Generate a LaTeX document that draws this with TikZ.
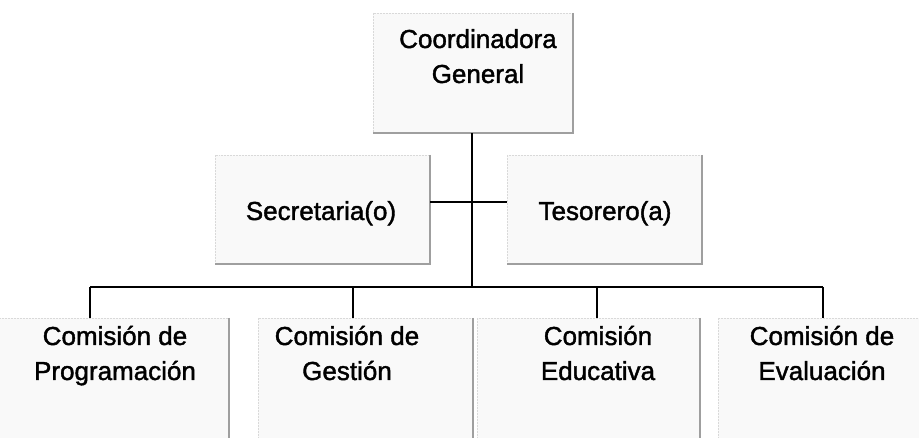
\documentclass[tikz,border=0pt]{standalone}
\usepackage{fontspec}
\setmainfont{Liberation Sans}
\newfontfamily\lblfont{Liberation Sans}[BoldFont={Liberation Sans},BoldFeatures={FakeBold=1.5}]
\begin{document}
\begin{tikzpicture}[x=1pt,y=-1pt,
  box/.style={fill=gray!5,draw=gray!30,line width=0.5pt,densely dotted},
  edge/.style={draw=gray!75,line width=1.2pt},
  lbl/.style={font=\lblfont\bfseries\fontsize{26}{35}\selectfont,align=center,inner sep=0pt},
  conn/.style={draw=black,line width=1.6pt}]
\useasboundingbox (0,0) rectangle (919,438);
\clip (0,0) rectangle (919,438);
% boxes
\path[box] (373,13) rectangle (573,133);
\node[inner sep=0pt,minimum width=200pt,minimum height=120pt] (cg) at (473,73) {};
\draw[edge] (573,13) -- (573,133) -- (373,133);
\path[box] (215,155) rectangle (430,264);
\node[inner sep=0pt,minimum width=215pt,minimum height=109pt] (sec) at (322.5,209.5) {};
\draw[edge] (430,155) -- (430,264) -- (215,264);
\path[box] (507,155) rectangle (702,264);
\node[inner sep=0pt,minimum width=195pt,minimum height=109pt] (tes) at (604.5,209.5) {};
\draw[edge] (702,155) -- (702,264) -- (507,264);
\path[box] (-5,318) rectangle (229,450);
\node[inner sep=0pt,minimum width=234pt,minimum height=132pt] (c1) at (90,384) {};
\draw[edge] (229,318) -- (229,450);
\path[box] (258,318) rectangle (473,450);
\node[inner sep=0pt,minimum width=215pt,minimum height=132pt] (c2) at (353,384) {};
\draw[edge] (473,318) -- (473,450);
\path[box] (477,318) rectangle (700,450);
\node[inner sep=0pt,minimum width=223pt,minimum height=132pt] (c3) at (597,384) {};
\draw[edge] (700,318) -- (700,450);
\path[box] (718,318) rectangle (940,450);
\node[inner sep=0pt,minimum width=222pt,minimum height=132pt] (c4) at (823,384) {};
% texts (base anchor = baseline of last line)
\node[lbl,anchor=base] (tcg) at (478,83) {Coordinadora\\General};
\node[lbl,anchor=base] (tsec) at (321,220) {Secretaria(o)};
\node[lbl,anchor=base] (ttes) at (605,220) {Tesorero(a)};
\node[lbl,anchor=base] (t1) at (115,380) {Comisión de\\Programación};
\node[lbl,anchor=base] (t2) at (347,380) {Comisión de\\Gestión};
\node[lbl,anchor=base] (t3) at (598,380) {Comisión\\Educativa};
\node[lbl,anchor=base] (t4) at (822,380) {Comisión de\\Evaluación};
% connectors
\coordinate (j1) at (472,202);
\coordinate (j2) at (472,287);
\coordinate (b1) at (90,287);
\coordinate (b2) at (353,287);
\coordinate (b3) at (597,287);
\coordinate (b4) at (823,287);
\draw[conn] (cg.south -| j1) -- (j1) -- (j2);
\draw[conn,line width=1.2pt] (sec.east |- j1) -- (j1) -- (tes.west |- j1);
\draw[conn] (b1) -- (b4);
\draw[conn] (b1) -- (b1 |- c1.north);
\draw[conn] (b2) -- (b2 |- c2.north);
\draw[conn] (b3) -- (b3 |- c3.north);
\draw[conn] (b4) -- (b4 |- c4.north);
\end{tikzpicture}
\end{document}
